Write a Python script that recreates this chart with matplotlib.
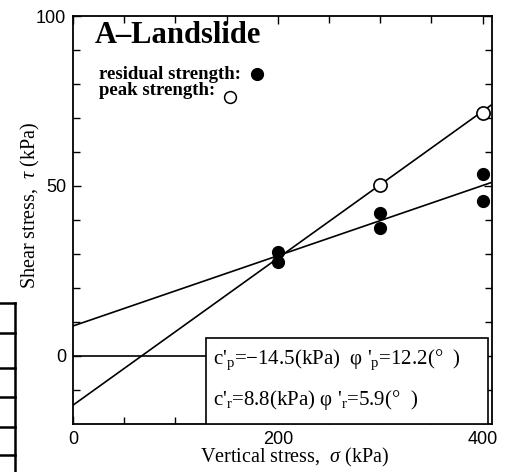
import numpy as np
import matplotlib
matplotlib.use("Agg")
import matplotlib.pyplot as plt
from matplotlib.patches import Rectangle
from matplotlib.lines import Line2D

# shear test results
sigma_res = [200, 200, 300, 300, 400, 400]
tau_res = [30.6, 27.6, 42.0, 37.6, 53.5, 45.6]
sigma_peak = [300, 400]
tau_peak = [50.3, 71.5]

# strength parameters (c' in kPa, phi' in degrees)
c_peak, phi_peak = -14.5, 12.2
c_res, phi_res = 8.8, 5.9

SERIF = "Liberation Serif"
SANS = "Liberation Sans"
plt.rcParams.update({
    "mathtext.fontset": "custom",
    "mathtext.rm": SERIF,
    "mathtext.it": SERIF + ":italic",
})

fig = plt.figure(figsize=(5.07, 4.72), dpi=100)
ax = fig.add_axes([0.144, 0.102, 0.826, 0.864])
ax.set_xlim(0, 409)
ax.set_ylim(-20, 100)

# envelopes
xs = np.array([0, 409])
ax.plot(xs, c_peak + np.tan(np.radians(phi_peak)) * xs, color="black", lw=1.2)
ax.plot(xs, c_res + np.tan(np.radians(phi_res)) * xs, color="black", lw=1.2)
ax.plot([0, 130], [0, 0], color="black", lw=1.2)

ax.plot(sigma_res, tau_res, "o", ms=8.5, color="black", zorder=5)
ax.plot(sigma_peak, tau_peak, "o", ms=9.5, mfc="white", mec="black", mew=1.2, zorder=5)

# ticks
ax.set_xticks([0, 200, 400])
ax.set_xticks([50, 100, 150, 250, 300, 350], minor=True)
ax.set_yticks([0, 50, 100])
ax.set_yticks(np.arange(-10, 100, 10), minor=True)
ax.tick_params(which="both", direction="in", top=True, right=True, width=1)
ax.tick_params(which="major", length=6, labelsize=13, pad=5)
ax.tick_params(which="minor", length=5)
for lab in ax.get_xticklabels() + ax.get_yticklabels():
    lab.set_fontfamily(SANS)
for sp in ax.spines.values():
    sp.set_linewidth(1.3)

ax.set_xlabel("Vertical stress,  $\\sigma$ (kPa)", fontfamily=SERIF, fontsize=14.5)
ax.xaxis.set_label_coords(0.53, -0.055)
ax.set_ylabel("Shear stress,  $\\tau$ (kPa)", fontfamily=SERIF, fontsize=14.5)
ax.yaxis.set_label_coords(-0.075, 0.537)

ax.text(0.052, 0.934, "A\u2013Landslide", transform=ax.transAxes, fontfamily=SERIF,
        fontsize=22, fontweight="bold", va="baseline")
ax.text(0.062, 0.846, "residual strength:", transform=ax.transAxes, fontfamily=SERIF,
        fontsize=13.5, fontweight="bold", va="baseline")
ax.text(0.062, 0.806, "peak strength:", transform=ax.transAxes, fontfamily=SERIF,
        fontsize=13.5, fontweight="bold", va="baseline")
ax.add_line(Line2D([0.44], [0.858], transform=ax.transAxes, marker="o", ms=8.5,
                   color="black", ls=""))
ax.add_line(Line2D([0.375], [0.801], transform=ax.transAxes, marker="o", ms=8.5,
                   mfc="white", mec="black", mew=1.1, ls=""))

# parameter box
ax.add_patch(Rectangle((0.317, 0.0), 0.673, 0.211, transform=ax.transAxes,
                       fill=True, fc="white", ec="black", lw=1.2, zorder=6))
ax.text(0.335, 0.157, "c'$_{\\rm p}$=\u221214.5(kPa)  \u03c6 '$_{\\rm p}$=12.2(\u00b0  )",
        transform=ax.transAxes, fontfamily=SERIF, fontsize=15, va="center", zorder=7)
ax.text(0.335, 0.059, "c'$_{\\rm r}$=8.8(kPa) \u03c6 '$_{\\rm r}$=5.9(\u00b0  )",
        transform=ax.transAxes, fontfamily=SERIF, fontsize=15, va="center", zorder=7)

# fragment of a neighbouring table at the left edge of the scan
for yy in [303, 333, 368, 397, 427, 455]:
    fig.add_artist(Line2D([0, 15 / 507], [1 - yy / 472] * 2, color="black", lw=1.8))
fig.add_artist(Line2D([15 / 507] * 2, [1 - 303 / 472, 0], color="black", lw=1.8))

fig.savefig("out.png", dpi=100)
